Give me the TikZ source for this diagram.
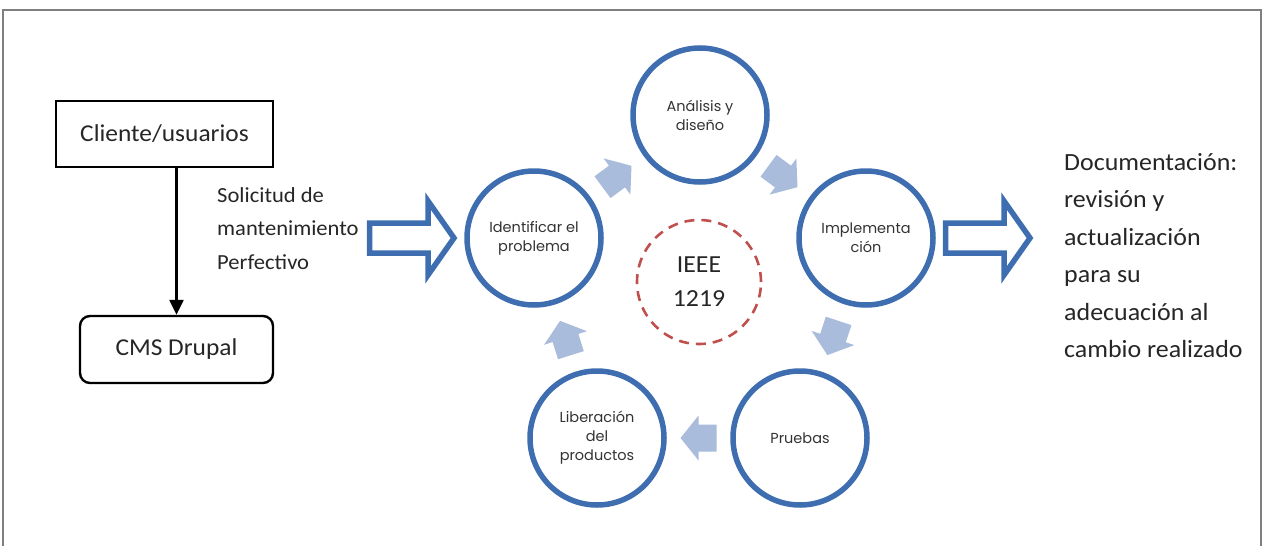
\documentclass[tikz,border=0pt]{standalone}
\usepackage{fontspec}
\setmainfont[FakeStretch=1.05]{Carlito}
\newfontfamily\gothic{Poppins}
\usetikzlibrary{arrows.meta,calc}
\definecolor{framec}{HTML}{7F7F7F}
\definecolor{cblue}{HTML}{3E6DB0}
\definecolor{chevc}{HTML}{A9BCDB}
\definecolor{dred}{HTML}{C0504D}
\begin{document}
\begin{tikzpicture}[x=1pt,y=-1pt,
  plainbox/.style={draw=black,line width=2.4pt,minimum width=217pt,minimum height=66pt,font=\fontsize{24.2}{28}\selectfont,inner sep=0pt,text=black!85},
  stage/.style={circle,draw=cblue,line width=5.5pt,minimum size=134pt,inner sep=0pt,align=center,font=\gothic\fontsize{14.5}{19}\selectfont,text=black!80},
  bigtext/.style={align=left,inner sep=0pt,anchor=north west,text=black!85},
  hollow/.style={draw=cblue,line width=5.5pt,line join=miter,fill=white},
  chev/.style={fill=chevc}
]
\useasboundingbox (0,0) rectangle (1264,546);
\draw[framec,line width=2.5pt] (3,546) -- (3,10) -- (1261,10) -- (1261,546);

% left boxes
\node[plainbox] (cli) at (164.5,134) {Cliente/usuarios};
\node[plainbox,rounded corners=10pt,minimum width=193pt,minimum height=67pt] (cms) at (176.5,349.5) {CMS Drupal};
\draw[line width=2.4pt,-{Triangle[width=14pt,length=15pt]}] (cms.north |- cli.south) -- (cms.north);

\node[bigtext,font=\fontsize{21.5}{33.5}\selectfont] (sol) at (217,187) {Solicitud de\\mantenimiento\\Perfectivo};

% stage circles
\node[stage] (an) at (700,115) {Análisis y\\diseño};
\node[stage] (id) at (534,238) {Identificar el\\problema};
\node[stage] (im) at (866,238) {Implementa\\ción};
\node[stage] (pr) at (800,438) {Pruebas};
\node[stage] (li) at (597,438) {Liberación\\del\\productos};
\node[circle,draw=dred,line width=2.6pt,dash pattern=on 10pt off 7pt,minimum size=124pt,inner sep=0pt,align=center,font=\fontsize{24.5}{34}\selectfont,text=black!85] (ieee) at (699,282) {IEEE\\1219};

% chevron arrows between stages
\foreach \a/\b/\ang in {id/an/36.5, an/im/-36.5, im/pr/-108.3, pr/li/180, li/id/107.5}{
  \fill[chev,shift={($(\a)!0.5!(\b)$)},rotate=\ang]
    (-18,-13.5) -- (0,-13.5) -- (0,-22.5) -- (18,0) -- (0,22.5) -- (0,13.5) -- (-18,13.5) -- cycle;
}

% hollow block arrows
\draw[hollow] (369.5,223) -- (428,223) -- (428,201) -- (454,238) -- (428,275) -- (428,253) -- (369.5,253) -- cycle;
\draw[hollow] (945.5,223) -- (1004,223) -- (1004,201) -- (1030,238) -- (1004,275) -- (1004,253) -- (945.5,253) -- cycle;

\node[bigtext,font=\fontsize{24.7}{37.5}\selectfont] (doc) at (1064,153) {Documentación:\\revisión y\\actualización\\para su\\adecuación al\\cambio realizado};
\end{tikzpicture}
\end{document}
